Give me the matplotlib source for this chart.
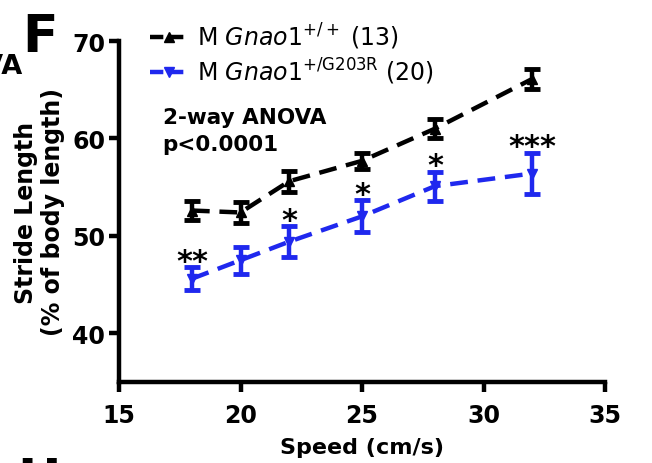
import matplotlib
matplotlib.use('Agg')
import matplotlib.pyplot as plt
from matplotlib.lines import Line2D

plt.rcParams['font.family'] = ['DejaVu Sans']
plt.rcParams['mathtext.fontset'] = 'dejavusans'

# ---- data ----
speeds = [18, 20, 22, 25, 28, 32]
wt_mean = [52.6, 52.4, 55.6, 57.7, 61.0, 66.1]
wt_sem = [1.0, 1.1, 1.1, 0.8, 1.0, 1.0]
mut_mean = [45.6, 47.5, 49.4, 52.0, 55.1, 56.4]
mut_sem = [1.2, 1.4, 1.6, 1.65, 1.5, 2.15]
sig_labels = ['**', '', '*', '*', '*', '***']
xticks = [15, 20, 25, 30, 35]
yticks = [40, 50, 60, 70]
wt_label = r'M $\mathit{Gnao1}^{\mathrm{+/+}}$ (13)'
mut_label = r'M $\mathit{Gnao1}^{\mathrm{+/G203R}}$ (20)'

black = '#000000'
blue = '#1f28ee'

fig = plt.figure(figsize=(6.52, 4.64), dpi=100)
ax = fig.add_axes([119/652, 81/464, (605-119)/652, (383-42)/464])

lw = 3.2
for mean, sem, col, mk in [(wt_mean, wt_sem, black, '^'), (mut_mean, mut_sem, blue, 'v')]:
    ax.errorbar(speeds, mean, yerr=sem, color=col, ecolor=col, elinewidth=3.2,
                capsize=6, capthick=3.5, marker=mk, markersize=7,
                linestyle=(0, (4, 2.2)), linewidth=lw, clip_on=False, zorder=3)

for x, m, s, lab in zip(speeds, mut_mean, mut_sem, sig_labels):
    if lab:
        ax.text(x, m + s - 0.3, lab, ha='center', va='baseline', fontsize=22,
                fontweight='bold', color='black')

ax.set_xlim(15, 35)
ax.set_ylim(35, 70)
ax.set_xticks(xticks)
ax.set_yticks(yticks)
for sp in ['top', 'right']:
    ax.spines[sp].set_visible(False)
for sp in ['left', 'bottom']:
    ax.spines[sp].set_linewidth(3.2)
ax.tick_params(width=3.2, length=7, labelsize=17, pad=3)
ax.tick_params(axis='x', pad=8)
for t in ax.get_xticklabels() + ax.get_yticklabels():
    t.set_fontweight('bold')

ax.set_xlabel('Speed (cm/s)', fontsize=16, fontweight='bold', labelpad=7)
ax.set_ylabel('Stride Length\n(% of body length)', fontsize=17, fontweight='bold',
              labelpad=5, linespacing=1.15)

ax.text(0.09, 0.805, '2-way ANOVA\np<0.0001', transform=ax.transAxes, fontsize=15.5,
        fontweight='bold', va='top', ha='left', linespacing=1.4)

handles = [Line2D([0], [0], color=black, marker='^', markersize=7, lw=lw,
                  linestyle=(0, (3, 1.5))),
           Line2D([0], [0], color=blue, marker='v', markersize=7, lw=lw,
                  linestyle=(0, (3, 1.5)))]
leg = fig.legend(handles, [wt_label, mut_label], loc='upper left',
                 bbox_to_anchor=(150/652, 1 - 22/464), frameon=False,
                 fontsize=17, handlelength=1.6, handletextpad=0.4,
                 labelspacing=0.2, borderaxespad=0, borderpad=0)

fig.text(22/652, 1 - 13/464, 'F', fontsize=37.5, fontweight='bold', va='top', ha='left')
fig.text(23/652, 1 - 54/464, 'ANOVA', fontsize=19.5, fontweight='bold', va='top', ha='right')
fig.text(17/652, 1 - 457/464, 'H', fontsize=37.5, fontweight='bold', va='top', ha='left')

fig.savefig('out.png', dpi=100)
